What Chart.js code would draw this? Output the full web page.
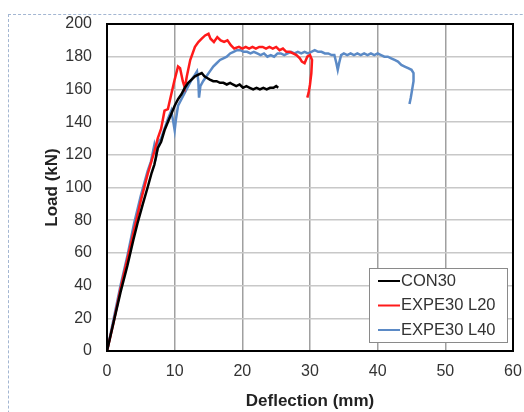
<!DOCTYPE html>
<html>
<head>
<meta charset="utf-8">
<script src="https://cdn.jsdelivr.net/npm/chart.js@4/dist/chart.umd.min.js"></script>
<style>
  html, body { margin: 0; padding: 0; background: #fff; overflow: hidden; }
  #wrap { position: relative; width: 524px; height: 412px; }
  #frame { position: absolute; left: 8px; top: 14px; width: 600px; height: 500px;
           border: 1px dashed #a3b6d2; box-sizing: border-box; }
  canvas { position: absolute; left: 0; top: 0; }
</style>
</head>
<body>
<div id="wrap">
  <div id="frame"></div>
  <canvas id="myChart" width="524" height="412"></canvas>
</div>
<script>
// Load-deflection curves (mm, kN)
const con30X = [0, 1, 2, 3, 3.9, 4.5, 5.3, 6, 6.6, 7, 7.5, 8, 8.5, 9, 9.5, 10, 10.5, 11, 11.5, 12, 12.5, 13, 13.5, 14, 14.4, 14.8, 15.2, 15.7, 16.2, 16.7, 17.2, 17.7, 18.2, 18.6, 19.1, 19.6, 20.1, 20.6, 21.1, 21.6, 22.1, 22.6, 23.1, 23.6, 24.1, 24.6, 25, 25.3];
const con30Y = [0, 18, 36, 52, 68, 78, 90, 100, 109, 114, 124, 128, 135, 140, 145, 150, 154, 157, 161, 164, 166, 168, 169, 170, 168, 167, 166, 165, 165, 164, 164, 163, 164, 163, 162, 163, 161, 162, 161, 160, 161, 160, 161, 160, 161, 161, 162, 161];

const l20X = [0, 1, 2, 3, 4, 5, 6, 7, 7.5, 8, 8.5, 9, 9.5, 10, 10.5, 10.8, 11.2, 11.5, 11.8, 12.3, 13, 13.5, 14, 14.5, 15, 15.3, 15.8, 16.3, 16.8, 17.3, 17.8, 18.3, 18.8, 19.5, 20, 20.5, 21, 21.5, 22, 22.5, 23, 23.5, 24, 24.5, 25, 25.5, 26, 26.5, 27, 27.5, 28, 28.5, 28.8, 29.2, 29.6, 30, 30.3, 30.2, 30, 29.8, 29.6];
const l20Y = [0, 18, 38, 56, 74, 92, 108, 122, 130, 136, 147, 148, 157, 166, 174, 173, 165, 161, 168, 178, 186, 189, 191, 193, 194, 191, 189, 192, 190, 189, 190, 187, 185, 186, 185, 186, 185, 186, 185, 186, 186, 185, 186, 185, 186, 184, 185, 183, 183, 182, 181, 179, 177, 176, 180, 181, 178, 170, 163, 158, 155];

const l40X = [0, 1, 2, 3, 4, 5, 6, 6.5, 7, 7.3, 7.6, 8, 8.5, 9, 9.5, 9.8, 10, 10.2, 10.5, 11, 11.5, 12, 12.5, 13, 13.3, 13.5, 13.6, 13.8, 14.2, 14.7, 15.2, 15.7, 16.2, 16.7, 17.2, 17.7, 18.2, 18.7, 19.2, 19.7, 20.2, 20.7, 21.2, 21.7, 22.2, 22.7, 23.2, 23.7, 24.2, 24.7, 25.2, 25.7, 26.2, 26.7, 27.2, 27.7, 28.2, 28.7, 29.2, 29.7, 30.2, 30.7, 31.2, 31.7, 32.2, 32.7, 33.2, 33.6, 33.9, 34.1, 34.3, 34.6, 35, 35.5, 36, 36.5, 37, 37.5, 38, 38.5, 39, 39.5, 40, 40.5, 41, 41.5, 42, 42.5, 43, 43.5, 44, 44.5, 45, 45.3, 45.3, 45.1, 44.9, 44.7];
const l40Y = [0, 20, 40, 58, 78, 95, 110, 116, 126, 120, 128, 130, 136, 142, 147, 140, 135, 142, 150, 154, 158, 162, 166, 169, 171, 165, 155, 162, 165, 168, 171, 174, 176, 178, 179, 180, 182, 183, 184, 184, 183, 183, 182, 183, 182, 181, 182, 180, 181, 180, 182, 182, 181, 182, 183, 182, 183, 182, 183, 182, 183, 184, 183, 183, 182, 182, 181, 181, 176, 172, 176, 181, 182, 181, 182, 181, 182, 181, 182, 181, 182, 181, 182, 181, 180, 180, 179, 178, 177, 175, 174, 173, 172, 170, 165, 160, 155, 151];

const seriesNames = ['CON30', 'EXPE30 L20', 'EXPE30 L40'];
const xTicks = [0, 10, 20, 30, 40, 50, 60];
const yTicks = [0, 20, 40, 60, 80, 100, 120, 140, 160, 180, 200];

function toPoints(xs, ys) {
    var pts = [];
    for (var i = 0; i < xs.length; i++) {
        pts.push({ x: xs[i], y: ys[i] });
    }
    return pts;
}

const fontFamily = "'Liberation Sans', Arial, sans-serif";

// black frame round the plot area
const framePlugin = {
    id: 'frame',
    afterDraw: (chart) => {
        const a = chart.chartArea;
        const ctx = chart.ctx;
        ctx.save();
        ctx.strokeStyle = '#000';
        ctx.lineWidth = 2;
        ctx.strokeRect(a.left, a.top, a.right - a.left, a.bottom - a.top);
        ctx.restore();
    }
};

// legend box inside the plot, bottom right
const boxLegend = {
    id: 'boxLegend',
    afterDraw: (chart) => {
        const ctx = chart.ctx;
        const a = chart.chartArea;
        const w = 138, h = 74;
        const left = a.right - 6 - w;
        const top = a.bottom - 9 - h;
        ctx.save();
        ctx.fillStyle = '#fff';
        ctx.fillRect(left, top, w, h);
        ctx.strokeStyle = '#8a8a8a';
        ctx.lineWidth = 1;
        ctx.strokeRect(left + 0.5, top + 0.5, w, h);
        ctx.font = '16.5px ' + fontFamily;
        ctx.textBaseline = 'middle';
        chart.data.datasets.forEach((ds, i) => {
            const y = top + 13 + i * 24.5;
            ctx.strokeStyle = ds.borderColor;
            ctx.lineWidth = 2;
            ctx.beginPath();
            ctx.moveTo(left + 9, y);
            ctx.lineTo(left + 31, y);
            ctx.stroke();
            ctx.fillStyle = '#333';
            ctx.fillText(ds.label, left + 32, y);
        });
        ctx.restore();
    }
};

const data = {
    datasets: [
        {
            label: seriesNames[0],
            data: toPoints(con30X, con30Y),
            borderColor: '#000000',
            backgroundColor: '#000000'
        }, {
            label: seriesNames[1],
            data: toPoints(l20X, l20Y),
            borderColor: '#ff1a1a',
            backgroundColor: '#ff1a1a'
        }, {
            label: seriesNames[2],
            data: toPoints(l40X, l40Y),
            borderColor: '#5b8ac6',
            backgroundColor: '#5b8ac6'
        }
    ]
};

const config = {
    type: 'scatter',
    data: data,
    options: {
        responsive: false,
        animation: false,
        showLine: true,
        elements: {
            point: { radius: 0 },
            line: { borderWidth: 2.5, tension: 0 }
        },
        layout: { padding: { left: 0, right: 11, top: 24, bottom: 0 } },
        plugins: {
            legend: { display: false },
            tooltip: { enabled: false }
        },
        scales: {
            x: {
                type: 'linear',
                min: 0,
                max: 60,
                afterBuildTicks: (scale) => { scale.ticks = xTicks.map(v => ({ value: v })); },
                afterFit: (scale) => {
                    scale.height = 61;
                    scale.paddingLeft = 0;
                    scale.paddingRight = 0;
                },
                grid: { color: '#a0a0a0', lineWidth: 1.5, drawTicks: false },
                border: { display: false },
                ticks: { color: '#333', padding: 11, font: { size: 16, family: fontFamily } },
                title: {
                    display: true,
                    text: 'Deflection (mm)',
                    color: '#222',
                    font: { size: 17, weight: 'bold', family: fontFamily },
                    padding: { top: 0, bottom: 0 }
                }
            },
            y: {
                type: 'linear',
                min: 0,
                max: 200,
                afterBuildTicks: (scale) => { scale.ticks = yTicks.map(v => ({ value: v })); },
                afterFit: (scale) => {
                    scale.width = 107;
                    scale.paddingTop = 0;
                    scale.paddingBottom = 0;
                },
                grid: { color: '#c8c8c8', lineWidth: 1.5, drawTicks: false },
                border: { display: false },
                ticks: { color: '#333', padding: 15, font: { size: 16, family: fontFamily } },
                title: {
                    display: true,
                    text: 'Load (kN)',
                    color: '#222',
                    font: { size: 17, weight: 'bold', family: fontFamily },
                    padding: { top: 42, bottom: 0 }
                }
            }
        }
    },
    plugins: [framePlugin, boxLegend]
};

var myChart = new Chart(document.getElementById('myChart'), config);
</script>
</body>
</html>
